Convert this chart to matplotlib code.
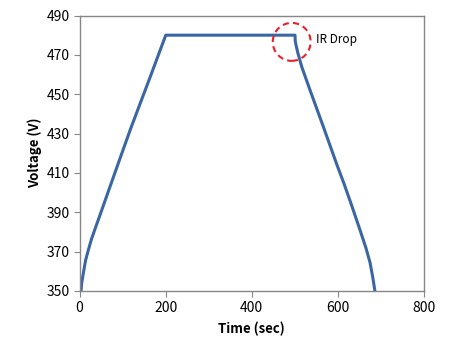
import numpy as np
import matplotlib.pyplot as plt
from matplotlib.patches import Ellipse

plt.rcParams['font.family'] = ['Noto Sans CJK KR', 'DejaVu Sans']

# charge / hold / discharge curve
time = [3.5, 5, 8.9, 14, 20.5, 28, 36, 51.5, 70, 88.6, 118.8, 163.7, 200.3,
        500.5, 501, 502.8, 507, 516, 535.3, 566.2, 597.2, 614.3, 632, 651.4,
        665, 674.6, 681, 686]
volt = [350, 354, 359, 365.5, 370.8, 376.5, 381.5, 391, 402.5, 414, 432.5, 458.5, 480,
        480, 477, 475, 471, 464, 452.1, 433.5, 414.5, 404.5, 393.5, 381,
        372, 364.5, 357, 350]

xticks = [0, 200, 400, 600, 800]
yticks = [350, 370, 390, 410, 430, 450, 470, 490]

fig = plt.figure(figsize=(4.5, 3.62), dpi=100)
ax = fig.add_axes([79.5/450, 1-291/362, (424-79.5)/450, (291-15.5)/362])

ax.plot(time, volt, color='#3a66a3', lw=2.2, solid_joinstyle='round')

circ = Ellipse((492.8, 476.6), 88, 19.3, fill=False, edgecolor='#e8202a',
               ls=(0, (3, 2)), lw=1.5, zorder=5)
ax.add_patch(circ)
ax.text(550, 478, "IR Drop", fontsize=8.5, va='center', ha='left')

ax.set_xlim(0, 800)
ax.set_ylim(350, 490)
ax.set_xticks(xticks)
ax.set_yticks(yticks)
ax.tick_params(labelsize=10, length=4, color='#868686', direction='out', pad=3)
for s in ax.spines.values():
    s.set_color('#868686')
    s.set_linewidth(1)

ax.set_xlabel("Time (sec)", fontsize=9.5, fontweight='bold', labelpad=5)
ax.set_ylabel("Voltage (V)", fontsize=9.5, fontweight='bold', labelpad=3)

fig.savefig("out.png", dpi=100)
